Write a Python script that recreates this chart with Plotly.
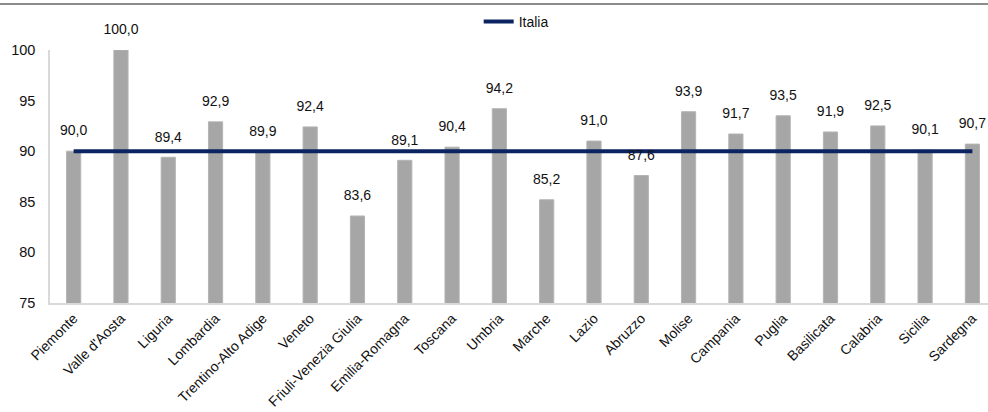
import plotly.graph_objects as go

regions = ["Piemonte", "Valle d'Aosta", "Liguria", "Lombardia", "Trentino-Alto Adige",
           "Veneto", "Friuli-Venezia Giulia", "Emilia-Romagna", "Toscana", "Umbria",
           "Marche", "Lazio", "Abruzzo", "Molise", "Campania", "Puglia", "Basilicata",
           "Calabria", "Sicilia", "Sardegna"]
values = [90.0, 100.0, 89.4, 92.9, 89.9, 92.4, 83.6, 89.1, 90.4, 94.2,
          85.2, 91.0, 87.6, 93.9, 91.7, 93.5, 91.9, 92.5, 90.1, 90.7]
italia = 90.0
y_ticks = [75, 80, 85, 90, 95, 100]

W, H = 988, 412
ml, mr, mt, mb = 50, 0, 50, 109

fig = go.Figure()
fig.add_trace(go.Bar(
    x=regions, y=values,
    marker=dict(color="#a6a6a6", line=dict(color="#b4b4b4", width=1)),
    width=0.3,
    showlegend=False,
    hoverinfo="skip",
))
fig.add_trace(go.Scatter(
    x=regions, y=[italia] * len(regions),
    mode="lines", name="Italia",
    line=dict(color="#0b2461", width=4),
))
fig.add_trace(go.Scatter(
    x=regions, y=values, mode="markers+text",
    marker=dict(size=18, opacity=0),
    text=[f"{v:.1f}".replace(".", ",") for v in values],
    textposition="top center",
    textfont=dict(family="Liberation Sans, Arial", size=14, color="#111"),
    cliponaxis=False,
    showlegend=False,
    hoverinfo="skip",
))

plot_h = H - mt - mb
fig.add_shape(type="line", xref="paper", yref="paper",
              x0=-ml / (W - ml - mr), x1=1.0,
              y0=1 + (mt - 4) / plot_h, y1=1 + (mt - 4) / plot_h,
              line=dict(color="#666666", width=1.5))

fig.update_layout(
    width=W, height=H,
    margin=dict(l=ml, r=mr, t=mt, b=mb, autoexpand=False),
    paper_bgcolor="white", plot_bgcolor="white",
    separators=",.",
    font=dict(family="Liberation Sans, Arial", size=13, color="#111"),
    showlegend=True,
    legend=dict(orientation="h", x=0.497, xanchor="center", y=1 + (mt - 22) / plot_h,
                yanchor="middle", font=dict(size=14), bgcolor="rgba(0,0,0,0)",
                itemwidth=30),
    xaxis=dict(range=[-0.5, 19.33], tickangle=-45, showline=True, linecolor="#d9d9d9",
               linewidth=1.5, ticks="", tickfont=dict(size=14), showgrid=False,
               automargin=False),
    yaxis=dict(range=[75, 100], tickvals=y_ticks, showline=True, linecolor="#d9d9d9",
               linewidth=1.5, ticks="", showgrid=False, zeroline=False,
               tickfont=dict(size=14.5), ticklabelstandoff=10, automargin=False),
    bargap=0.7,
)

fig.write_html("out.html")
